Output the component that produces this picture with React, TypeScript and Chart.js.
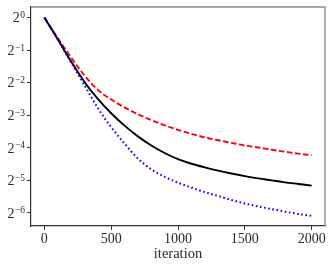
import React, { useEffect, useRef } from "react";
import { Chart, registerables } from "chart.js";

Chart.register(...registerables);

// iteration values
const iterations = [0, 100, 200, 300, 400, 500, 600, 700, 800, 900, 1000, 1100, 1200, 1300, 1400, 1500, 1600, 1700, 1800, 1900, 2000];
// series values, given as base-2 exponents
const redDashedLog2 = [0, -0.63, -1.23, -1.78, -2.22, -2.52, -2.76, -2.97, -3.15, -3.31, -3.45, -3.57, -3.68, -3.77, -3.85, -3.93, -3.99, -4.06, -4.12, -4.18, -4.23];
const blackSolidLog2 = [0, -0.67, -1.35, -1.98, -2.50, -2.94, -3.32, -3.65, -3.93, -4.16, -4.35, -4.49, -4.60, -4.70, -4.79, -4.87, -4.94, -5.00, -5.06, -5.11, -5.16];
const blueDottedLog2 = [0, -0.68, -1.38, -2.08, -2.78, -3.37, -3.87, -4.33, -4.66, -4.89, -5.07, -5.22, -5.36, -5.48, -5.60, -5.71, -5.80, -5.88, -5.96, -6.03, -6.09];
// tick labels
const xTicks = [0, 500, 1000, 1500, 2000];
const yTickExponents = [0, -1, -2, -3, -4, -5, -6];
const xAxisTitle = "iteration";

const FONT = "'Liberation Serif', 'DejaVu Serif', serif";

export default function App() {
  const canvasRef = useRef<HTMLCanvasElement | null>(null);

  useEffect(() => {
    document.body.style.margin = "0";
    const canvas = canvasRef.current;
    if (!canvas) return;

    const toPoints = (exps: number[]) =>
      iterations.map((it, i) => ({ x: it, y: Math.pow(2, exps[i]) }));

    const framePlugin = {
      id: "frameAndLabels",
      afterDraw(chart: any) {
        const { ctx, chartArea } = chart;
        const yScale = chart.scales.y;
        ctx.save();
        // top & right spines
        ctx.strokeStyle = "#8c8c8c";
        ctx.lineWidth = 1.4;
        ctx.beginPath();
        ctx.moveTo(chartArea.left, chartArea.top);
        ctx.lineTo(chartArea.right, chartArea.top);
        ctx.lineTo(chartArea.right, chartArea.bottom);
        ctx.stroke();
        // y tick labels with superscript exponents
        ctx.fillStyle = "#2a2a2a";
        ctx.textBaseline = "alphabetic";
        ctx.textAlign = "left";
        const rightEdge = chartArea.left - 6;
        yTickExponents.forEach((e) => {
          const py = yScale.getPixelForValue(Math.pow(2, e));
          const sup = e === 0 ? "0" : "\u2212" + String(-e);
          ctx.font = `9.5px ${FONT}`;
          const supW = ctx.measureText(sup).width;
          ctx.font = `14px ${FONT}`;
          const baseW = ctx.measureText("2").width;
          const xStart = rightEdge - supW - baseW - 0.5;
          ctx.fillText("2", xStart, py + 4.8);
          ctx.font = `9.5px ${FONT}`;
          ctx.fillText(sup, xStart + baseW + 0.5, py + 0.5);
        });
        ctx.restore();
      },
    };

    const chart = new Chart(canvas, {
      type: "line",
      data: {
        datasets: [
          {
            label: "blue",
            data: toPoints(blueDottedLog2),
            borderColor: "#0000ff",
            borderWidth: 2,
            borderDash: [1.6, 2.6],
            pointRadius: 0,
            cubicInterpolationMode: "monotone",
            fill: false,
          },
          {
            label: "black",
            data: toPoints(blackSolidLog2),
            borderColor: "#000000",
            borderWidth: 1.9,
            pointRadius: 0,
            cubicInterpolationMode: "monotone",
            fill: false,
          },
          {
            label: "red",
            data: toPoints(redDashedLog2),
            borderColor: "#ff0000",
            borderWidth: 1.9,
            borderDash: [5.5, 2.6],
            pointRadius: 0,
            cubicInterpolationMode: "monotone",
            fill: false,
          },
        ],
      },
      options: {
        animation: false,
        responsive: false,
        devicePixelRatio: 1,
        layout: { padding: { top: 7, right: 7, left: 0, bottom: 0 } },
        plugins: { legend: { display: false }, tooltip: { enabled: false } },
        scales: {
          x: {
            type: "linear",
            min: -100,
            max: 2100,
            afterFit: (s: any) => {
              s.height = 41;
            },
            afterBuildTicks: (s: any) => {
              s.ticks = xTicks.map((v) => ({ value: v }));
            },
            grid: {
              drawOnChartArea: false,
              drawTicks: true,
              tickLength: 4,
              tickColor: "#333",
              tickWidth: 1,
            },
            border: { display: true, color: "#333", width: 1.2 },
            ticks: {
              color: "#2a2a2a",
              font: { family: FONT, size: 14 },
              padding: 1,
              maxRotation: 0,
              callback: (v: any) => String(v),
            },
            title: {
              display: true,
              text: xAxisTitle,
              color: "#2a2a2a",
              font: { family: FONT, size: 14.5 },
              padding: { top: 0, bottom: 4 },
            },
          },
          y: {
            type: "logarithmic",
            min: Math.pow(2, -6.4),
            max: Math.pow(2, 0.32),
            afterFit: (s: any) => {
              s.width = 31;
            },
            afterBuildTicks: (s: any) => {
              s.ticks = yTickExponents.map((e) => ({ value: Math.pow(2, e) }));
            },
            grid: {
              drawOnChartArea: false,
              drawTicks: true,
              tickLength: 4,
              tickColor: "#333",
              tickWidth: 1,
            },
            border: { display: true, color: "#333", width: 1.2 },
            ticks: { display: false },
          },
        },
      },
      plugins: [framePlugin],
    });

    return () => {
      chart.destroy();
    };
  }, []);

  return (
    <div style={{ width: 332, height: 267, background: "#fff" }}>
      <canvas ref={canvasRef} width={332} height={267} style={{ display: "block" }} />
    </div>
  );
}
